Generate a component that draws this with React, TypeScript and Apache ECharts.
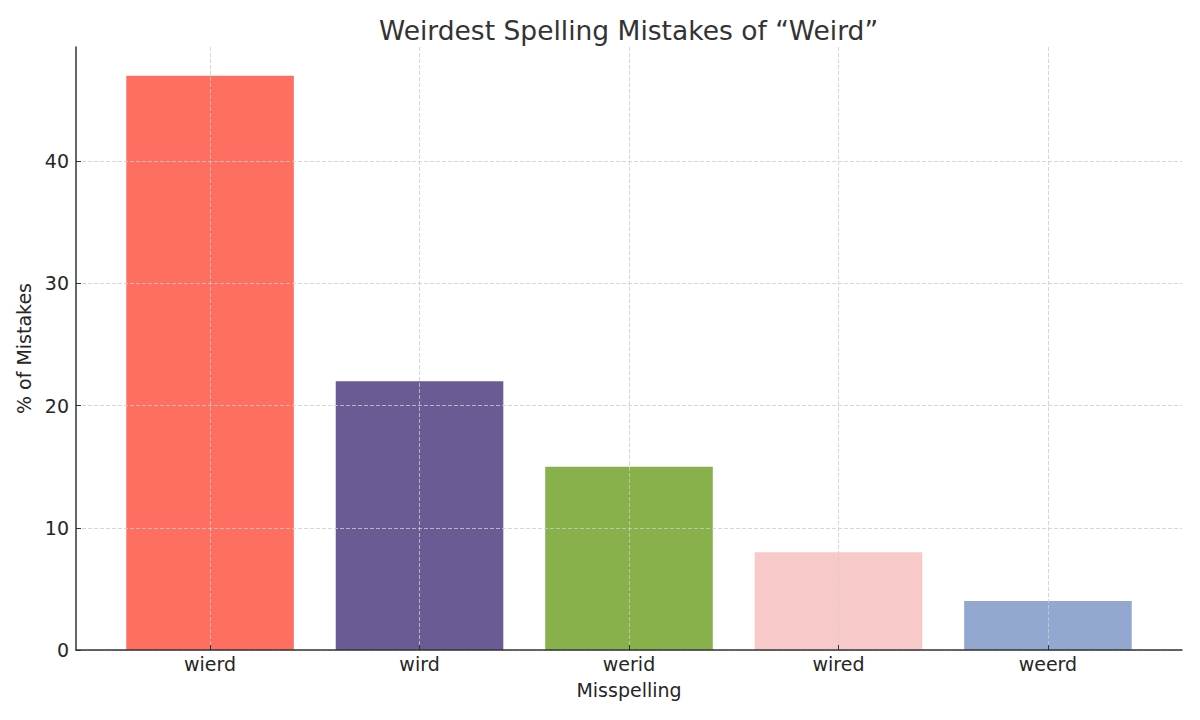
import { useEffect, useRef } from 'react';
import * as echarts from 'echarts';

const categories = ['wierd', 'wird', 'werid', 'wired', 'weerd'];
const percentages = [47, 22, 15, 8, 4];
const barColors = ['#FF6F61', '#6B5B95', '#88B04B', '#F7CAC9', '#92A8D1'];
const yTicks = [0, 10, 20, 30, 40];
const xTicks = [0, 1, 2, 3, 4];

const FONT = 'DejaVu Sans';

export default function App() {
  const chartRef = useRef<HTMLDivElement>(null);

  useEffect(() => {
    document.body.style.margin = '0';
    if (!chartRef.current) return;
    const chart = echarts.init(chartRef.current, null, { renderer: 'svg' });

    chart.setOption({
      animation: false,
      backgroundColor: '#fff',
      textStyle: { fontFamily: FONT },
      title: {
        text: 'Weirdest Spelling Mistakes of “Weird”',
        left: 374,
        top: 12,
        textStyle: { fontFamily: FONT, fontSize: 26.5, fontWeight: 'normal', color: '#333' },
      },
      grid: { left: 76, right: 18, top: 47, bottom: 70, outerBoundsMode: 'none' },
      xAxis: {
        type: 'value',
        min: -0.64,
        max: 4.64,
        z: 3,
        name: 'Misspelling',
        nameLocation: 'middle',
        nameGap: 30,
        nameTextStyle: { fontFamily: FONT, fontSize: 19, color: '#262626' },
        axisLine: { show: true, onZero: false, lineStyle: { color: '#333', width: 1.5 } },
        axisTick: { show: true, inside: true, length: 5, customValues: xTicks, lineStyle: { color: '#333' } },
        axisLabel: {
          customValues: xTicks,
          margin: 4,
          fontSize: 19,
          color: '#262626',
          fontFamily: FONT,
          formatter: (v: number) => categories[Math.round(v)] ?? '',
        },
        splitLine: { show: true, lineStyle: { color: '#cccccc', type: [4, 2], width: 0.8 } },
      },
      yAxis: {
        type: 'value',
        min: 0,
        max: 49.35,
        z: 3,
        name: '% of Mistakes',
        nameLocation: 'middle',
        nameRotate: 90,
        nameGap: 37,
        nameTextStyle: { fontFamily: FONT, fontSize: 19, color: '#262626' },
        axisLine: { show: true, onZero: false, lineStyle: { color: '#333', width: 1.5 } },
        axisTick: { show: true, inside: true, length: 5, customValues: yTicks, lineStyle: { color: '#333' } },
        axisLabel: { customValues: yTicks, margin: 7, fontSize: 19, color: '#262626', fontFamily: FONT },
        splitLine: { show: true, lineStyle: { color: '#cccccc', type: [4, 2], width: 0.8 } },
      },
      series: [
        {
          type: 'bar',
          barWidth: '80%',
          data: percentages.map((v, i) => ({
            value: [i, v],
            itemStyle: { color: barColors[i] },
          })),
        },
      ],
    });

    return () => chart.dispose();
  }, []);

  return <div ref={chartRef} style={{ width: 1200, height: 720 }} />;
}
